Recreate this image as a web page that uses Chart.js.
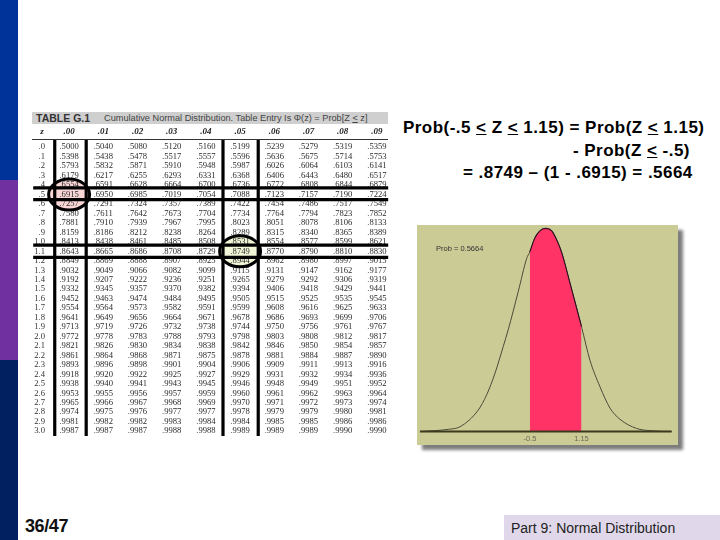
<!DOCTYPE html>
<html>
<head>
<meta charset="utf-8">
<script src="https://cdn.jsdelivr.net/npm/chart.js@4"></script>
<style>
  html, body { margin: 0; padding: 0; background: #fff; }
  body { width: 720px; height: 540px; position: relative; overflow: hidden; font-family: "Liberation Sans", Arial, sans-serif; }
  .band { position: absolute; left: 0; width: 18px; }
  .abs { position: absolute; white-space: nowrap; }
  .formula { font-weight: bold; font-size: 17px; letter-spacing: 0.46px; line-height: 20px; color: #000; }
  #tableCanvas, #curveCanvas { position: absolute; display: block; }
  #tableCanvas { left: 30px; top: 108px; filter: blur(0.3px); }
  #curvePanel { position: absolute; left: 417px; top: 225px; width: 261px; height: 220px; background: #cbcb96; box-shadow: 5px 5px 3px #7d7d7d; }
  #curveCanvas { left: 0; top: 0; }
</style>
</head>
<body>
  <div class="band" style="top:0;height:180px;background:#003399"></div>
  <div class="band" style="top:180px;height:180px;background:#7030a0"></div>
  <div class="band" style="top:360px;height:180px;background:#002060"></div>

  <div class="abs" style="left:32px;top:112px;width:356px;height:12px;background:#cfcfcf"></div>
  <div class="abs" style="left:36px;top:112px;font-size:10.5px;line-height:12px;font-weight:bold;color:#333">TABLE G.1</div>
  <div class="abs" style="left:104px;top:112px;font-size:9.2px;line-height:12px;color:#444">Cumulative Normal Distribution. Table Entry Is Φ(z) = Prob[Z <u>&lt;</u> z]</div>
  <canvas id="tableCanvas" width="365" height="340"></canvas>
  <div class="abs" style="left:32px;top:139px;width:356px;height:1px;background:#333"></div>

  <div class="abs formula" style="left:403px;top:118px">Prob(-.5 <u>&lt;</u> Z <u>&lt;</u> 1.15) = Prob(Z <u>&lt;</u> 1.15)</div>
  <div class="abs formula" style="left:573px;top:141px">- Prob(Z <u>&lt;</u> -.5)</div>
  <div class="abs formula" style="left:463px;top:163px">= .8749 – (1 - .6915) = .5664</div>

  <div id="curvePanel">
    <canvas id="curveCanvas" width="261" height="220"></canvas>
    <div class="abs" style="left:19px;top:19px;font-size:7.5px;line-height:9px;color:#333">Prob = 0.5664</div>
  </div>

  <div class="abs" style="left:25px;top:516px;font-size:18px;letter-spacing:-0.4px;line-height:20px;font-weight:bold;color:#111">36/47</div>
  <div class="abs" style="left:504px;top:515px;width:216px;height:25px;background:#e0d8ea"></div>
  <div class="abs" style="left:511px;top:519px;font-size:14px;line-height:18px;color:#222">Part 9: Normal Distribution</div>

<script>
const columnLabels = ['z', '.00', '.01', '.02', '.03', '.04', '.05', '.06', '.07', '.08', '.09'];
const columnTicks = [-0.79, 0, 1, 2, 3, 4, 5, 6, 7, 8, 9];
const rowLabels = ['.0', '.1', '.2', '.3', '.4', '.5', '.6', '.7', '.8', '.9',
  '1.0', '1.1', '1.2', '1.3', '1.4', '1.5', '1.6', '1.7', '1.8', '1.9',
  '2.0', '2.1', '2.2', '2.3', '2.4', '2.5', '2.6', '2.7', '2.8', '2.9', '3.0'];
const cdfRows = [
  ['.5000', '.5040', '.5080', '.5120', '.5160', '.5199', '.5239', '.5279', '.5319', '.5359'],
  ['.5398', '.5438', '.5478', '.5517', '.5557', '.5596', '.5636', '.5675', '.5714', '.5753'],
  ['.5793', '.5832', '.5871', '.5910', '.5948', '.5987', '.6026', '.6064', '.6103', '.6141'],
  ['.6179', '.6217', '.6255', '.6293', '.6331', '.6368', '.6406', '.6443', '.6480', '.6517'],
  ['.6554', '.6591', '.6628', '.6664', '.6700', '.6736', '.6772', '.6808', '.6844', '.6879'],
  ['.6915', '.6950', '.6985', '.7019', '.7054', '.7088', '.7123', '.7157', '.7190', '.7224'],
  ['.7257', '.7291', '.7324', '.7357', '.7389', '.7422', '.7454', '.7486', '.7517', '.7549'],
  ['.7580', '.7611', '.7642', '.7673', '.7704', '.7734', '.7764', '.7794', '.7823', '.7852'],
  ['.7881', '.7910', '.7939', '.7967', '.7995', '.8023', '.8051', '.8078', '.8106', '.8133'],
  ['.8159', '.8186', '.8212', '.8238', '.8264', '.8289', '.8315', '.8340', '.8365', '.8389'],
  ['.8413', '.8438', '.8461', '.8485', '.8508', '.8531', '.8554', '.8577', '.8599', '.8621'],
  ['.8643', '.8665', '.8686', '.8708', '.8729', '.8749', '.8770', '.8790', '.8810', '.8830'],
  ['.8849', '.8869', '.8888', '.8907', '.8925', '.8944', '.8962', '.8980', '.8997', '.9015'],
  ['.9032', '.9049', '.9066', '.9082', '.9099', '.9115', '.9131', '.9147', '.9162', '.9177'],
  ['.9192', '.9207', '.9222', '.9236', '.9251', '.9265', '.9279', '.9292', '.9306', '.9319'],
  ['.9332', '.9345', '.9357', '.9370', '.9382', '.9394', '.9406', '.9418', '.9429', '.9441'],
  ['.9452', '.9463', '.9474', '.9484', '.9495', '.9505', '.9515', '.9525', '.9535', '.9545'],
  ['.9554', '.9564', '.9573', '.9582', '.9591', '.9599', '.9608', '.9616', '.9625', '.9633'],
  ['.9641', '.9649', '.9656', '.9664', '.9671', '.9678', '.9686', '.9693', '.9699', '.9706'],
  ['.9713', '.9719', '.9726', '.9732', '.9738', '.9744', '.9750', '.9756', '.9761', '.9767'],
  ['.9772', '.9778', '.9783', '.9788', '.9793', '.9798', '.9803', '.9808', '.9812', '.9817'],
  ['.9821', '.9826', '.9830', '.9834', '.9838', '.9842', '.9846', '.9850', '.9854', '.9857'],
  ['.9861', '.9864', '.9868', '.9871', '.9875', '.9878', '.9881', '.9884', '.9887', '.9890'],
  ['.9893', '.9896', '.9898', '.9901', '.9904', '.9906', '.9909', '.9911', '.9913', '.9916'],
  ['.9918', '.9920', '.9922', '.9925', '.9927', '.9929', '.9931', '.9932', '.9934', '.9936'],
  ['.9938', '.9940', '.9941', '.9943', '.9945', '.9946', '.9948', '.9949', '.9951', '.9952'],
  ['.9953', '.9955', '.9956', '.9957', '.9959', '.9960', '.9961', '.9962', '.9963', '.9964'],
  ['.9965', '.9966', '.9967', '.9968', '.9969', '.9970', '.9971', '.9972', '.9973', '.9974'],
  ['.9974', '.9975', '.9976', '.9977', '.9977', '.9978', '.9979', '.9979', '.9980', '.9981'],
  ['.9981', '.9982', '.9982', '.9983', '.9984', '.9984', '.9985', '.9985', '.9986', '.9986'],
  ['.9987', '.9987', '.9987', '.9988', '.9988', '.9989', '.9989', '.9989', '.9990', '.9990'],
];

// the marker pen on the table, in column / row units
const ruleColumns = [-0.42, 0.5, 4.5, 5.53];
const ruleRows = [4.3, 5.53, 10.35, 11.64];
const ruleColumnSpan = [-1.05, 9.33];
const ruleRowSpan = [-0.87, 30.53];
const markedColumns = [0, 5];
const markedRows = [5, 11];
const markedFills = ['#f9d6d6', '#f1f6d6'];

// normal curve
const curveZ = [-4.01, -3.1, -2.73, -2.15, -1.88, -1.61, -1.35, -1.19, -0.87, -0.6, -0.5, -0.34, -0.18, 0, 0.2, 0.36, 0.52, 0.78, 1.15, 1.42, 1.74, 2.06, 2.38, 2.91, 3.34, 4.03];
const curveDensity = [0, 0.0043, 0.0094, 0.042, 0.072, 0.115, 0.167, 0.2, 0.275, 0.34, 0.353, 0.38, 0.394, 0.399, 0.394, 0.376, 0.351, 0.292, 0.206, 0.14, 0.088, 0.046, 0.024, 0.006, 0.0016, 0];
const shadeFrom = -0.5;
const shadeTo = 1.15;
const curveTickValues = [-0.5, 1.15];
const curveTickLabels = ['-0.5', '1.15'];

function zipPoints(xs, ys) {
  return xs.map((x, i) => ({ x, y: ys[i] }));
}

function ruleDataset(points) {
  return { data: points, borderColor: '#000', borderWidth: 3.2, pointRadius: 0, clip: false, order: 1 };
}

function buildRuleDatasets() {
  const datasets = [];
  ruleColumns.forEach((col) => {
    datasets.push(ruleDataset(ruleRowSpan.map((row) => ({ x: col, y: row }))));
  });
  ruleRows.forEach((row) => {
    datasets.push(ruleDataset(ruleColumnSpan.map((col) => ({ x: col, y: row }))));
  });
  return datasets;
}

function drawEllipses(chart, withFill) {
  const { ctx, scales } = chart;
  const rx = 20.5;
  const ry = 15.5;
  markedColumns.forEach((col, i) => {
    const px = scales.x.getPixelForValue(col);
    const py = scales.y.getPixelForValue(markedRows[i]);
    ctx.save();
    ctx.beginPath();
    ctx.ellipse(px, py, rx, ry, 0, 0, Math.PI * 2);
    if (withFill) {
      ctx.fillStyle = markedFills[i];
      ctx.fill();
    } else {
      ctx.lineWidth = 3;
      ctx.strokeStyle = '#000';
      ctx.stroke();
    }
    ctx.restore();
  });
}

const cellTextPlugin = {
  id: 'cellText',
  beforeDatasetsDraw(chart) {
    drawEllipses(chart, true);
    const { ctx, scales } = chart;
    ctx.save();
    ctx.font = '8.6px "Liberation Serif", serif';
    ctx.fillStyle = '#2a2a2a';
    ctx.textAlign = 'center';
    ctx.textBaseline = 'middle';
    cdfRows.forEach((row, r) => {
      row.forEach((text, c) => {
        ctx.fillText(text, scales.x.getPixelForValue(c), scales.y.getPixelForValue(r));
      });
    });
    ctx.restore();
  },
  afterDatasetsDraw(chart) {
    drawEllipses(chart, false);
  },
};

new Chart(document.getElementById('tableCanvas'), {
  type: 'line',
  data: { datasets: buildRuleDatasets() },
  plugins: [cellTextPlugin],
  options: {
    responsive: false,
    animation: false,
    layout: { padding: { right: 1, bottom: 10 } },
    plugins: { legend: { display: false }, tooltip: { enabled: false } },
    scales: {
      x: {
        type: 'linear',
        position: 'top',
        min: -0.5,
        max: 9.5,
        grid: { display: false, drawTicks: false },
        border: { display: false },
        afterFit(scale) { scale.height = 34.5; },
        afterBuildTicks(scale) { scale.ticks = columnTicks.map((value) => ({ value })); },
        ticks: {
          autoSkip: false,
          maxRotation: 0,
          padding: 5,
          color: '#222',
          font: { family: '"Liberation Serif", serif', size: 9, style: 'italic', weight: 'bold' },
          callback: (value, index) => columnLabels[index],
        },
      },
      y: {
        type: 'linear',
        reverse: true,
        min: -0.5,
        max: 30.5,
        grid: { display: false, drawTicks: false },
        border: { display: false },
        afterFit(scale) { scale.width = 22; },
        afterBuildTicks(scale) { scale.ticks = rowLabels.map((label, value) => ({ value })); },
        ticks: {
          autoSkip: false,
          padding: 7,
          color: '#333',
          font: { family: '"Liberation Serif", serif', size: 8.6 },
          callback: (value) => rowLabels[value],
        },
      },
    },
  },
});

const curvePoints = zipPoints(curveZ, curveDensity);
const shadePoints = curvePoints.filter((p) => p.x >= shadeFrom && p.x <= shadeTo);

new Chart(document.getElementById('curveCanvas'), {
  type: 'line',
  data: {
    datasets: [
      // base line
      { data: [{ x: -4.01, y: 0 }, { x: 4.03, y: 0 }], borderColor: '#3b3a1c', borderWidth: 2, pointRadius: 0, order: 1 },
      { data: shadePoints, borderColor: '#2a1020', borderWidth: 1.1, backgroundColor: '#ff3366', fill: 'origin', pointRadius: 0, cubicInterpolationMode: 'monotone', order: 2 },
      { data: curvePoints, borderColor: '#4a4a3a', borderWidth: 1, pointRadius: 0, cubicInterpolationMode: 'monotone', order: 3 },
    ],
  },
  options: {
    responsive: false,
    animation: false,
    layout: { padding: 0 },
    plugins: { legend: { display: false }, tooltip: { enabled: false } },
    scales: {
      x: {
        type: 'linear',
        min: -4.105,
        max: 4.233,
        position: { y: 0 },
        grid: { display: false, drawTicks: false },
        border: { display: false },
        afterBuildTicks(scale) { scale.ticks = curveTickValues.map((value) => ({ value })); },
        ticks: {
          autoSkip: false,
          maxRotation: 0,
          padding: 3,
          color: '#6a6a55',
          font: { family: '"Liberation Sans", sans-serif', size: 7.5 },
          callback: (value, index) => curveTickLabels[index],
        },
      },
      y: { type: 'linear', min: -0.0265, max: 0.4056, display: false },
    },
  },
});
</script>
</body>
</html>
